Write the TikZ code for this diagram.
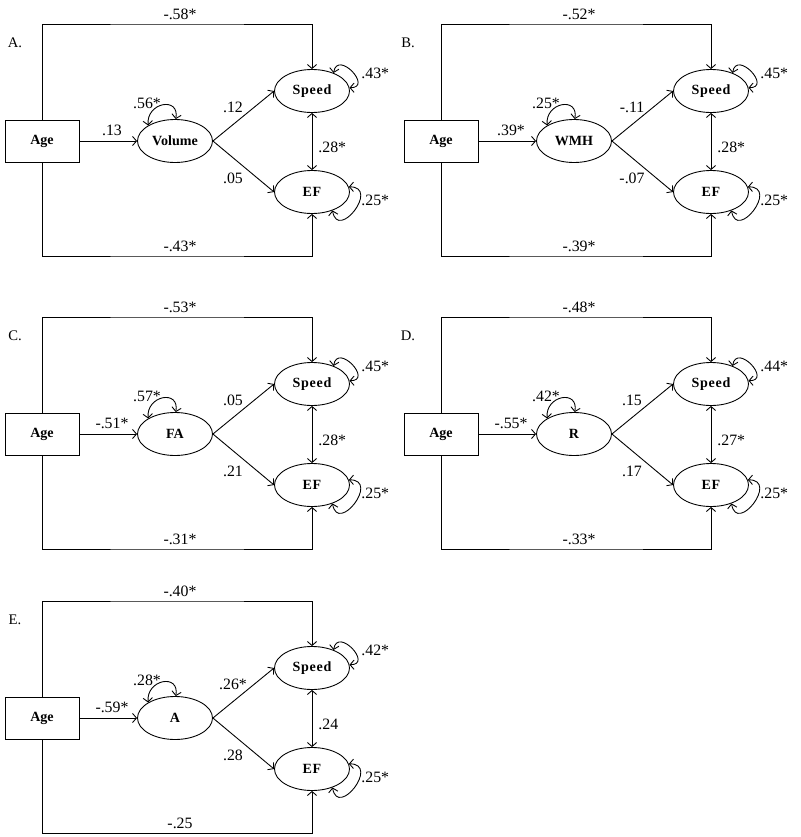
\documentclass[tikz,border=0pt]{standalone}
\usepackage{fontspec}
\setmainfont{Liberation Serif}
\newfontfamily\spacedbf[LetterSpace=5]{Liberation Serif}
\usetikzlibrary{arrows.meta, shapes.geometric}

\begin{document}
\begin{tikzpicture}[
        x=0.03cm, y=-0.03cm, line width=0.75pt,
        >={Straight Barb[length=1.2mm, width=2.8mm]},
        obs/.style={draw, rectangle, minimum width=2.22cm, minimum height=1.26cm, inner sep=0pt, font=\fontsize{12}{14}\selectfont\bfseries},
        lat/.style={draw, ellipse, minimum width=2.25cm, minimum height=1.29cm, inner sep=0pt, font=\fontsize{12}{14}\selectfont\bfseries},
        outc/.style={lat, font=\fontsize{12}{14}\spacedbf\bfseries},
        coef/.style={inner sep=0pt, font=\fontsize{13.5}{16}\selectfont},
        panel/.style={inner sep=0pt, font=\fontsize{12.5}{15}\selectfont}
    ]

        \useasboundingbox (0,0) rectangle (800,837);

        % One panel per mediator
        \foreach \px/\py/\lx/\pl/\med/\vAM/\vML/\vMS/\vME/\vSE/\vSL/\vEL/\vTop/\vBot in {
            0/0/15/A/Volume/.13/.56*/.12/.05/.28*/.43*/.25*/-.58*/-.43*,
            399/0/9/B/WMH/.39*/.25*/-.11/-.07/.28*/.45*/.25*/-.52*/-.39*,
            0/293/15/C/FA/-.51*/.57*/.05/.21/.28*/.45*/.25*/-.53*/-.31*,
            399/293/9/D/R/-.55*/.42*/.15/.17/.27*/.44*/.25*/-.48*/-.33*,
            0/577/15/E/A/-.59*/.28*/.26*/.28/.24/.42*/.25*/-.40*/-.25} {
        \begin{scope}[shift={(\px,\py)}]

            % Variables
            \node[panel] (lab\pl) at (\lx,43) {\pl.};
            \node[obs] (age\pl) at (42,141) {Age};
            \node[lat] (med\pl) at (175,141) {\med};
            \node[outc] (speed\pl) at (312,91) {Speed};
            \node[outc] (ef\pl) at (312,192) {EF};
            \coordinate (top\pl) at (177,24);
            \coordinate (bot\pl) at (177,256);

            % Paths
            \draw[->] (age\pl.north) |- (top\pl) -| (speed\pl.north);
            \draw[->] (age\pl.south) |- (bot\pl) -| (ef\pl.south);
            \draw[->] (age\pl) -- (med\pl);
            \draw[->] (med\pl.east) -- (speed\pl.west);
            \draw[->] (med\pl.east) -- (ef\pl.west);
            \draw[<->] (speed\pl) -- (ef\pl);

            % Variances
            \draw[<->] (med\pl.150) to[out=95, in=80, looseness=2.1] (med\pl.88);
            \draw[<->] (speed\pl.40) to[out=80, in=0, looseness=2.8] (speed\pl.5);
            \draw[<->] (ef\pl.8) to[out=0, in=-80, looseness=2.8] (ef\pl.-42);

            % Coefficients
            \node[coef] (cTop\pl) at (180,14) {\vTop};
            \node[coef] (cBot\pl) at (180,246) {\vBot};
            \node[coef] (cAM\pl) at (112,130) {\vAM};
            \node[coef] (cML\pl) at (147,103) {\vML};
            \node[coef] (cMS\pl) at (233,107) {\vMS};
            \node[coef] (cME\pl) at (233,178) {\vME};
            \node[coef, anchor=west] (cSE\pl) at (318,147) {\vSE};
            \node[coef, anchor=west] (cSL\pl) at (361,73) {\vSL};
            \node[coef, anchor=west] (cEL\pl) at (361,200) {\vEL};

        \end{scope}
        }

    \end{tikzpicture}
\end{document}
